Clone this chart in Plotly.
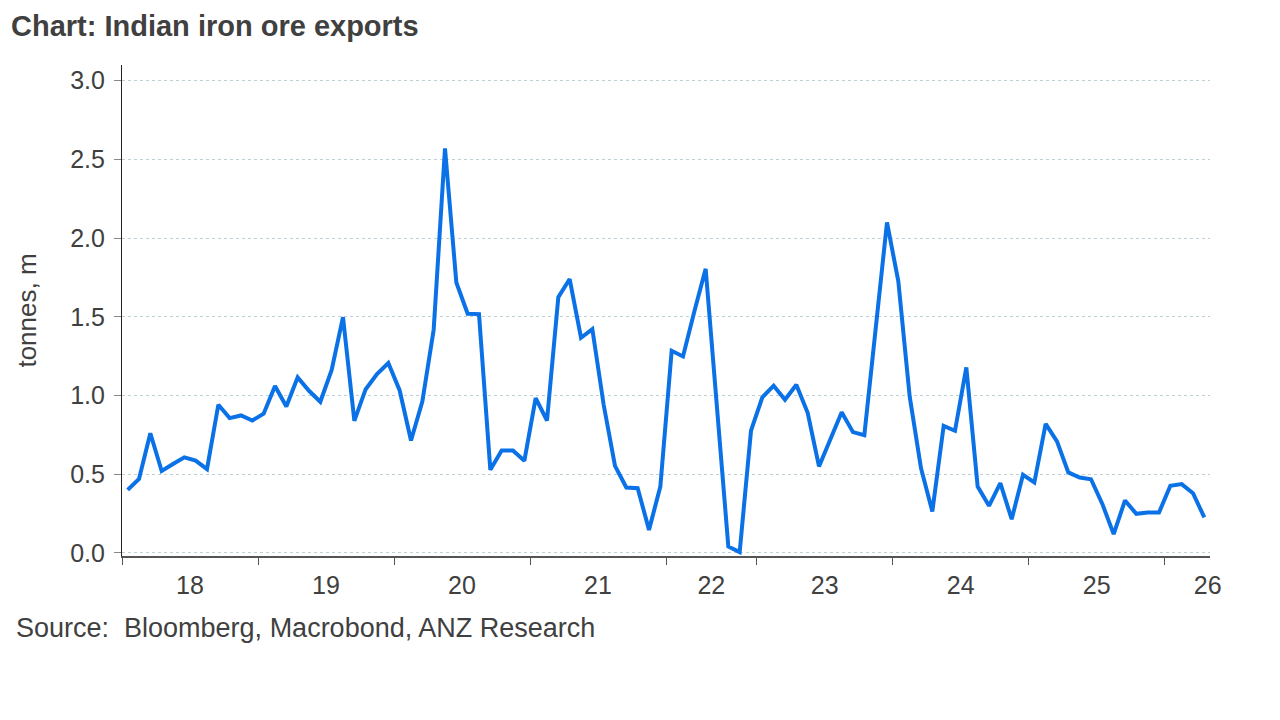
import numpy as np
import plotly.graph_objects as go

# year labels on the x axis and number of observations plotted in each year
years = ["18", "19", "20", "21", "22", "23", "24", "25", "26"]
obs_per_year = [12, 12, 12, 12, 8, 12, 12, 12, 4]

# iron ore exports, tonnes m (None = missing observation, line drawn across)
exports = [
    0.40, 0.47, 0.76, 0.52, 0.565, 0.607, 0.586, 0.532, 0.941, 0.856, 0.873, 0.841,
    0.884, 1.060, 0.930, 1.115, 1.030, 0.960, 1.163, 1.498, 0.839, 1.040, 1.136, 1.206,
    1.032, 0.714, 0.962, 1.418, 2.570, 1.718, 1.519, 1.517, 0.528, 0.650, 0.650, 0.585,
    0.983, 0.841, 1.625, 1.740, 1.367, 1.422, 0.941, 0.553, 0.415, 0.411, 0.146, 0.421,
    1.284, 1.248, 1.534, 1.805, None, 0.040, 0.005, 0.776,
    0.988, 1.062, 0.973, 1.068, 0.890, 0.549, None, 0.894, 0.767, 0.748, None, 2.100,
    1.725, 0.994, 0.538, 0.263, 0.807, 0.776, 1.178, 0.421, 0.299, 0.443, 0.214, 0.496,
    0.447, 0.820, 0.708, 0.511, 0.479, 0.468, 0.311, 0.119, 0.333, 0.248, 0.256, 0.256,
    0.426, 0.437, 0.379, 0.225,
]

TEXT = "#404040"
FONT = "Liberation Sans, Arial, sans-serif"

n = len(exports)
x = np.arange(n) + 0.5

# year boundaries (ticks) and label positions (centre of each year)
bounds = np.concatenate([[0], np.cumsum(obs_per_year)])
centres = (bounds[:-1] + bounds[1:]) / 2.0
centres[-1] = n - 0.2  # last, partial year: label sits at the axis end

fig = go.Figure()
fig.add_trace(go.Scatter(
    x=x,
    y=exports,
    mode="lines",
    connectgaps=True,
    line=dict(color="#0A72E6", width=4),
    hoverinfo="skip",
))

# page body adds an 8px offset, margins are set so the plot lands where it should
fig.update_layout(
    width=1280,
    height=720,
    paper_bgcolor="white",
    plot_bgcolor="white",
    showlegend=False,
    margin=dict(l=114, r=78, t=57, b=172),
    font=dict(family=FONT, size=25, color=TEXT),
    annotations=[
        dict(
            text="<b>Chart: Indian iron ore exports</b>",
            xref="paper",
            yref="paper",
            x=-0.1035,
            y=1.0794,
            xanchor="left",
            yanchor="middle",
            showarrow=False,
            font=dict(family=FONT, size=29, color=TEXT),
        ),
        dict(
            text="Source:  Bloomberg, Macrobond, ANZ Research",
            xref="paper",
            yref="paper",
            x=-0.0993,
            y=-0.147,
            xanchor="left",
            yanchor="middle",
            showarrow=False,
            font=dict(family=FONT, size=27, color=TEXT),
        ),
    ],
)

fig.update_xaxes(
    range=[0, n],
    tickmode="array",
    tickvals=centres,
    ticktext=years,
    ticks="",
    ticklabelstandoff=6,
    showgrid=False,
    zeroline=False,
    showline=True,
    linecolor="#555555",
    linewidth=1.5,
    tickfont=dict(size=25, color=TEXT),
    minor=dict(
        tickmode="array",
        tickvals=bounds[:-1],
        ticks="outside",
        ticklen=7,
        tickcolor="#555555",
        tickwidth=1,
        showgrid=False,
    ),
)

fig.update_yaxes(
    range=[-0.02, 3.10],
    tickmode="array",
    tickvals=[0, 0.5, 1.0, 1.5, 2.0, 2.5, 3.0],
    tickformat=".1f",
    ticks="outside",
    ticklen=7,
    tickcolor="#888888",
    ticklabelstandoff=4,
    showline=True,
    linecolor="#222222",
    linewidth=1.2,
    showgrid=True,
    gridcolor="#BFCFD6",
    griddash="dot",
    gridwidth=1,
    zeroline=False,
    tickfont=dict(size=25, color=TEXT),
    title=dict(text="tonnes, m", font=dict(size=26, color=TEXT), standoff=26),
)

fig.write_html("out.html")
